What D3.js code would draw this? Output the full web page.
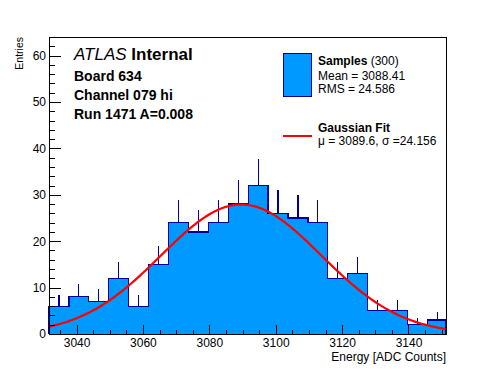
<!DOCTYPE html>
<html>
<head>
<meta charset="utf-8">
<title>Energy histogram</title>
<script src="https://d3js.org/d3.v7.min.js"></script>
<style>
  body { margin: 0; background: #fff; }
  svg { font-family: "Liberation Sans", Arial, sans-serif; }
  .axis path { display: none; }
  .axis line { stroke: #000; shape-rendering: crispEdges; }
  .axis text { fill: #000; font-size: 12px; font-family: "Liberation Sans", Arial, sans-serif; }
</style>
</head>
<body>
<svg width="496" height="372"></svg>
<script>
// bin contents, bins of 6 ADC counts starting at binStart
const binStart = 3031.7;
const binWidth = 6;
const counts = [6, 8, 7, 12, 6, 15, 24, 22, 24, 28, 32, 26, 25, 24, 12, 13, 5, 5, 2, 3];

// gaussian fit parameters (as printed in the legend, amplitude)
const fitMean = 3089.6;
const fitSigma = 24.156;
const fitAmp = 27.9;

const xMajorTicks = [3040, 3060, 3080, 3100, 3120, 3140];
const yMajorTicks = [0, 10, 20, 30, 40, 50, 60];

const infoLines = ["Board 634", "Channel 079 hi", "Run 1471 A=0.008"];

const frame = { left: 49, right: 446, top: 37, bottom: 334 };
const blue = "#0099ff";
const navy = "#000099";

const svg = d3.select("svg");

const x = d3.scaleLinear()
  .domain([binStart, 3151.3])
  .range([frame.left, frame.right]);

const y = d3.scaleLinear()
  .domain([0, 64])
  .range([frame.bottom, frame.top]);

const bins = counts.map((c, i) => ({
  x0: binStart + i * binWidth,
  x1: binStart + (i + 1) * binWidth,
  n: c
}));

const plot = svg.append("g");

// filled histogram
plot.selectAll("rect.bin")
  .data(bins)
  .join("rect")
  .attr("class", "bin")
  .attr("x", d => x(d.x0))
  .attr("width", d => Math.min(x(d.x1), frame.right) - x(d.x0))
  .attr("y", d => y(d.n))
  .attr("height", d => y(0) - y(d.n))
  .attr("fill", blue)
  .attr("shape-rendering", "crispEdges");

// outline
const step = [];
bins.forEach(d => {
  step.push([x(d.x0), y(d.n)]);
  step.push([Math.min(x(d.x1), frame.right), y(d.n)]);
});
step.unshift([x(binStart), y(0)]);
step.push([frame.right, y(0)]);

plot.append("path")
  .attr("d", d3.line()(step))
  .attr("fill", "none")
  .attr("stroke", navy)
  .attr("stroke-width", 1.2)
  .attr("shape-rendering", "crispEdges");

// error bars (sqrt N, upper half visible above the fill)
plot.selectAll("line.err")
  .data(bins)
  .join("line")
  .attr("class", "err")
  .attr("x1", d => x((d.x0 + d.x1) / 2))
  .attr("x2", d => x((d.x0 + d.x1) / 2))
  .attr("y1", d => y(d.n))
  .attr("y2", d => y(d.n + Math.sqrt(d.n)))
  .attr("stroke", navy)
  .attr("stroke-width", 1.2)
  .attr("shape-rendering", "crispEdges");

// gaussian fit curve
const xs = d3.range(binStart, 3151.3, 0.5);
plot.append("path")
  .datum(xs)
  .attr("d", d3.line()
    .x(d => x(d))
    .y(d => y(fitAmp * Math.exp(-((d - fitMean) ** 2) / (2 * fitSigma * fitSigma)))))
  .attr("fill", "none")
  .attr("stroke", "#ff0000")
  .attr("stroke-width", 2.2);

// axes
const xMinor = d3.range(3035, 3151, 5);
const yMinor = d3.range(0, 65, 2);

svg.append("g")
  .attr("class", "axis")
  .attr("transform", `translate(0,${frame.bottom})`)
  .call(d3.axisBottom(x).tickValues(xMinor).tickSize(-4.5).tickFormat(""));

svg.append("g")
  .attr("class", "axis")
  .attr("transform", `translate(0,${frame.bottom})`)
  .call(d3.axisBottom(x).tickValues(xMajorTicks).tickSize(-9).tickPadding(4.5).tickFormat(d3.format("d")));

svg.append("g")
  .attr("class", "axis")
  .attr("transform", `translate(${frame.left},0)`)
  .call(d3.axisLeft(y).tickValues(yMinor).tickSize(-6).tickFormat(""));

svg.append("g")
  .attr("class", "axis")
  .attr("transform", `translate(${frame.left},0)`)
  .call(d3.axisLeft(y).tickValues(yMajorTicks).tickSize(-12).tickPadding(3).tickFormat(d3.format("d")));

// frame
svg.append("rect")
  .attr("x", frame.left)
  .attr("y", frame.top)
  .attr("width", frame.right - frame.left)
  .attr("height", frame.bottom - frame.top)
  .attr("fill", "none")
  .attr("stroke", "#000")
  .attr("shape-rendering", "crispEdges");

// axis titles
svg.append("text")
  .attr("x", frame.right)
  .attr("y", 360.5)
  .attr("text-anchor", "end")
  .style("font-size", "12px")
  .text("Energy [ADC Counts]");

svg.append("text")
  .attr("transform", `translate(22.5,${frame.top}) rotate(-90)`)
  .attr("text-anchor", "end")
  .style("font-size", "10.5px")
  .text("Entries");

// ATLAS label
const atlas = svg.append("text")
  .attr("x", 74)
  .attr("y", 60)
  .style("font-size", "17px");
atlas.append("tspan").style("font-style", "italic").text("ATLAS");
atlas.append("tspan").style("font-weight", "bold").text(" Internal");

svg.selectAll("text.info")
  .data(infoLines)
  .join("text")
  .attr("class", "info")
  .attr("x", 74)
  .attr("y", (d, i) => 81 + i * 19)
  .style("font-size", "14px")
  .style("font-weight", "bold")
  .text(d => d);

// legend
const legend = svg.append("g");
legend.append("rect")
  .attr("x", 283.5)
  .attr("y", 53.5)
  .attr("width", 28)
  .attr("height", 43)
  .attr("fill", blue)
  .attr("stroke", navy);

const samplesText = legend.append("text")
  .attr("x", 318)
  .attr("y", 65)
  .style("font-size", "12px");
samplesText.append("tspan").style("font-weight", "bold").text("Samples");
samplesText.append("tspan").text(" (300)");

legend.append("text").attr("x", 318).attr("y", 80).style("font-size", "12px").text("Mean = 3088.41");
legend.append("text").attr("x", 318).attr("y", 93).style("font-size", "12px").text("RMS = 24.586");

legend.append("line")
  .attr("x1", 283).attr("x2", 312)
  .attr("y1", 136).attr("y2", 136)
  .attr("stroke", "#ff0000")
  .attr("stroke-width", 2);

legend.append("text").attr("x", 318).attr("y", 132).style("font-size", "12px")
  .style("font-weight", "bold").text("Gaussian Fit");
legend.append("text").attr("x", 318).attr("y", 145).style("font-size", "12px")
  .text("\u03bc = 3089.6, \u03c3 =24.156");
</script>
</body>
</html>
